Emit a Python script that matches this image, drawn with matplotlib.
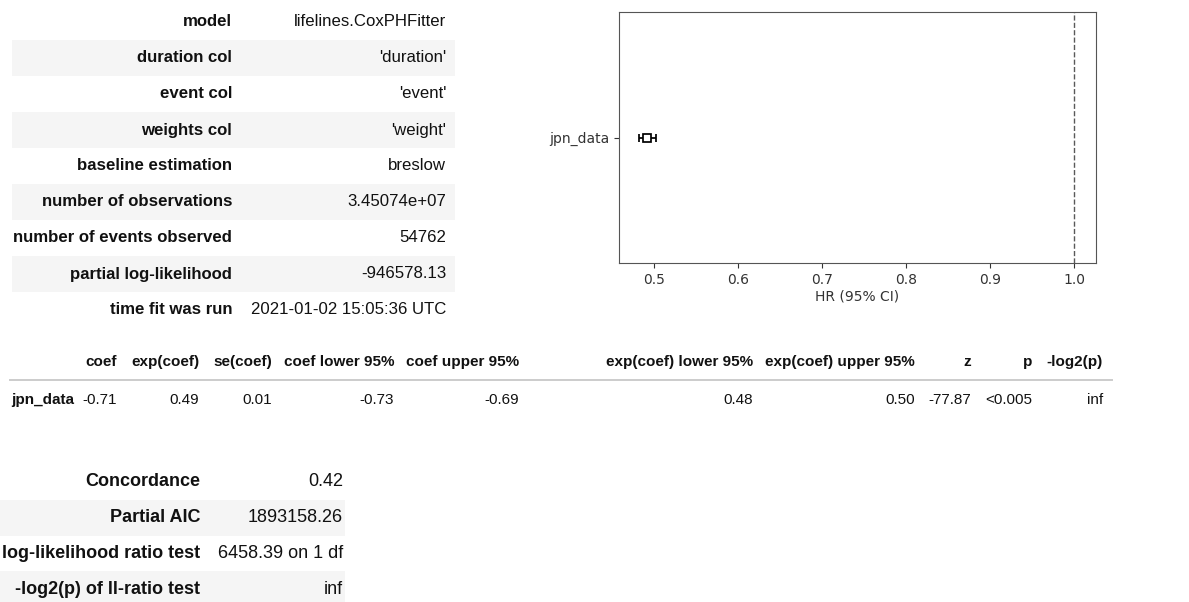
import matplotlib.pyplot as plt
from matplotlib.patches import Rectangle

# Summary table (top left)
summary_labels = ['model', 'duration col', 'event col', 'weights col', 'baseline estimation',
                  'number of observations', 'number of events observed',
                  'partial log-likelihood', 'time fit was run']
summary_values = ['lifelines.CoxPHFitter', "'duration'", "'event'", "'weight'", 'breslow',
                  '3.45074e+07', '54762', '-946578.13', '2021-01-02 15:05:36 UTC']

# Coefficient table (middle)
coef_columns = ['coef', 'exp(coef)', 'se(coef)', 'coef lower 95%', 'coef upper 95%',
                'exp(coef) lower 95%', 'exp(coef) upper 95%', 'z', 'p', '-log2(p)']
coef_row_name = 'jpn_data'
coef_values = ['-0.71', '0.49', '0.01', '-0.73', '-0.69', '0.48', '0.50', '-77.87', '<0.005', 'inf']

# Fit statistics table (bottom left)
fit_labels = ['Concordance', 'Partial AIC', 'log-likelihood ratio test', '-log2(p) of ll-ratio test']
fit_values = ['0.42', '1893158.26', '6458.39 on 1 df', 'inf']

# Forest plot data
covariates = ['jpn_data']
hazard_ratio = [0.492]
hr_lower = [0.482]
hr_upper = [0.502]

W, H = 1189, 602
TABLE_FONT = ['Liberation Sans', 'DejaVu Sans']
TEXT_COLOR = '#111111'
STRIPE = '#f5f5f5'

fig = plt.figure(figsize=(W / 100, H / 100), dpi=100)

# background axes in pixel coordinates for the html-like tables
bg = fig.add_axes([0, 0, 1, 1])
bg.set_xlim(0, W)
bg.set_ylim(H, 0)
bg.axis('off')

# top table
row_h = 36
for i, (lab, val) in enumerate(zip(summary_labels, summary_values)):
    yc = 22 + i * row_h
    if i % 2 == 1:
        bg.add_patch(Rectangle((12, yc - row_h / 2), 443, row_h, color=STRIPE, lw=0, zorder=0))
    bg.text(232, yc, lab, ha='right', va='center', fontsize=12.1, fontweight='bold',
            family=TABLE_FONT, color=TEXT_COLOR)
    bg.text(446, yc, val, ha='right', va='center', fontsize=12.1,
            family=TABLE_FONT, color=TEXT_COLOR)

# coefficient table
col_right = [117, 199, 272, 394, 519, 753, 915, 971, 1032, 1103]
for x, col, val in zip(col_right, coef_columns, coef_values):
    bg.text(x, 362, col, ha='right', va='center', fontsize=11, fontweight='bold',
            family=TABLE_FONT, color=TEXT_COLOR)
    bg.text(x, 400, val, ha='right', va='center', fontsize=11,
            family=TABLE_FONT, color=TEXT_COLOR)
bg.text(11, 400, coef_row_name, ha='left', va='center', fontsize=11, fontweight='bold',
        family=TABLE_FONT, color=TEXT_COLOR)
bg.plot([10, 1112], [380, 380], color='#cccccc', lw=1.4)

# fit statistics table
for i, (lab, val) in enumerate(zip(fit_labels, fit_values)):
    yc = 482 + i * 35.7
    if i % 2 == 1:
        bg.add_patch(Rectangle((0, yc - 17.8), 345, 35.7, color=STRIPE, lw=0, zorder=0))
    bg.text(200, yc, lab, ha='right', va='center', fontsize=13, fontweight='bold',
            family=TABLE_FONT, color=TEXT_COLOR)
    bg.text(343, yc, val, ha='right', va='center', fontsize=13,
            family=TABLE_FONT, color=TEXT_COLOR)

# forest plot
ax = fig.add_axes([619 / W, 1 - 263 / H, (1096 - 619) / W, (263 - 12) / H])
ypos = list(range(len(covariates)))
xerr = [[h - l for h, l in zip(hazard_ratio, hr_lower)],
        [u - h for h, u in zip(hazard_ratio, hr_upper)]]
ax.errorbar(hazard_ratio, ypos, xerr=xerr, fmt='s', color='k', markerfacecolor='white',
            markeredgewidth=1.25, elinewidth=1.25, capsize=3, markersize=6)
ax.axvline(1.0, ls='--', lw=1, color='k', alpha=0.65)
ax.set_xlim(0.4583, 1.026)
ax.set_ylim(-1.5, 1.5)
ax.set_yticks(ypos)
ax.set_yticklabels(covariates)
ax.set_xticks([0.5, 0.6, 0.7, 0.8, 0.9, 1.0])
ax.set_xticklabels(['0.5', '0.6', '0.7', '0.8', '0.9', '1.0'])
ax.tick_params(labelsize=10, colors='#333333', length=3.5)
ax.set_xlabel('HR (95% CI)', fontsize=10, color='#333333', labelpad=2)
for s in ax.spines.values():
    s.set_color('#555555')

fig.savefig('out.png', dpi=100)
